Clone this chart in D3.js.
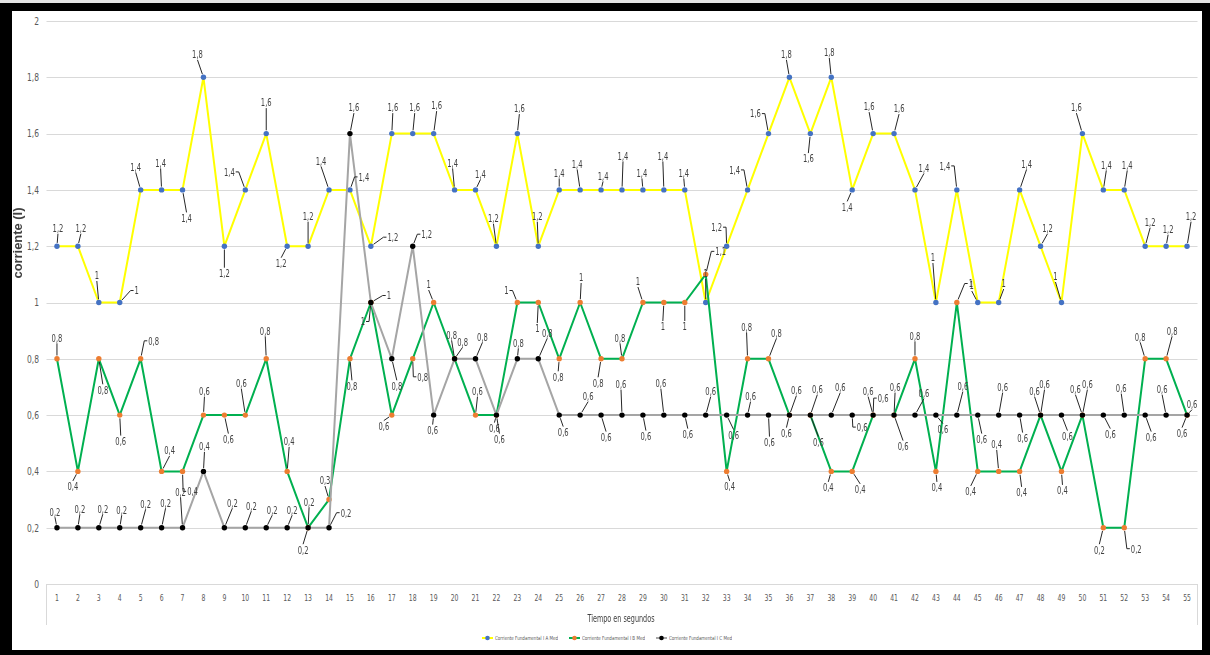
<!DOCTYPE html>
<html>
<head>
<meta charset="utf-8">
<script src="https://cdn.jsdelivr.net/npm/d3@7/dist/d3.min.js"></script>
<style>
  html, body { margin: 0; padding: 0; background: #fff; }
  svg { display: block; }
  text { font-family: "Liberation Sans Narrow", "Arial Narrow", "DejaVu Sans Condensed", "Liberation Sans", sans-serif; }
  .txt, .txt text { opacity: 0.995; }
</style>
</head>
<body>
<svg id="chart" width="1210" height="655"></svg>
<script>
// Time axis (seconds)
const categories = [1,2,3,4,5,6,7,8,9,10,11,12,13,14,15,16,17,18,19,20,21,22,23,24,25,26,27,28,29,30,
  31,32,33,34,35,36,37,38,39,40,41,42,43,44,45,46,47,48,49,50,51,52,53,54,55];

// Fundamental current per phase
const seriesA = [1.2,1.2,1,1,1.4,1.4,1.4,1.8,1.2,1.4,1.6,1.2,1.2,1.4,1.4,1.2,1.6,1.6,1.6,1.4,
  1.4,1.2,1.6,1.2,1.4,1.4,1.4,1.4,1.4,1.4,1.4,1,1.2,1.4,1.6,1.8,1.6,1.8,1.4,1.6,
  1.6,1.4,1,1.4,1,1,1.4,1.2,1,1.6,1.4,1.4,1.2,1.2,1.2];
const seriesB = [0.8,0.4,0.8,0.6,0.8,0.4,0.4,0.6,0.6,0.6,0.8,0.4,0.2,0.3,0.8,1,0.6,0.8,1,0.8,
  0.6,0.6,1,1,0.8,1,0.8,0.8,1,1,1,1.1,0.4,0.8,0.8,0.6,0.6,0.4,0.4,0.6,
  0.6,0.8,0.4,1,0.4,0.4,0.4,0.6,0.4,0.6,0.2,0.2,0.8,0.8,0.6];
const seriesC = [0.2,0.2,0.2,0.2,0.2,0.2,0.2,0.4,0.2,0.2,0.2,0.2,0.2,0.2,1.6,1,0.8,1.2,0.6,0.8,
  0.8,0.6,0.8,0.8,0.6,0.6,0.6,0.6,0.6,0.6,0.6,0.6,0.6,0.6,0.6,0.6,0.6,0.6,0.6,0.6,
  0.6,0.6,0.6,0.6,0.6,0.6,0.6,0.6,0.6,0.6,0.6,0.6,0.6,0.6,0.6];

const seriesNames = ["Corriente Fundamental I A Med", "Corriente Fundamental I B Med", "Corriente Fundamental I C Med"];
const yTicks = [0,0.2,0.4,0.6,0.8,1,1.2,1.4,1.6,1.8,2];
const yTitle = "corriente (I)";
const xTitle = "Tiempo en segundos";

// Hand-placed data label nudges [dx, dy] (px from the point)
const labelNudgeA = [[1,-18],[3,-18],[-2,-27],[17,-12],[-5,-23],[-1,-27],[4,28],[-6,-23],[0,27],[-16,-18],
  [0,-31],[-6,17],[0,-30],[-8,-29],[14,-13],[22,-9],[1,-26],[2,-26],[3,-28],[-2,-27],
  [5,-16],[-3,-28],[2,-25],[-1,-30],[0,-17],[-3,-26],[2,-14],[1,-34],[-1,-17],[-1,-34],
  [-1,-17],[0,-29],[-10,-19],[-13,-20],[-13,-20],[-3,-23],[-2,25],[-2,-25],[-5,17],[-4,-27],
  [5,-25],[9,-22],[-3,-45],[-12,-24],[-6,-17],[5,-19],[7,-26],[7,-18],[-6,-26],[-6,-26],
  [3,-25],[3,-25],[5,-24],[2,-17],[4,-30]];
const labelNudgeB = [[0,-21],[-5,15],[4,31],[1,26],[13,-18],[8,-21],[10,20],[1,-24],[4,24],[-4,-32],
  [-1,-28],[2,-30],[1,-26],[-4,-19],[2,27],[-8,19],[-8,11],[10,18],[-5,-18],[-3,-24],
  [2,-24],[-2,13],[-11,-12],[-1,26],[-1,18],[1,-25],[-3,24],[-2,-21],[-5,-21],[-1,24],
  [0,24],[15,-23],[3,15],[-1,-32],[8,-26],[-3,18],[8,27],[-3,16],[8,18],[10,-17],
  [9,31],[0,-23],[1,16],[14,-19],[-7,20],[-2,-27],[2,21],[-6,-24],[1,19],[-7,-26],
  [-4,22],[12,21],[-5,-22],[6,-28],[-5,18]];
const labelNudgeC = [[-2,-16],[2,-19],[4,-19],[2,-18],[5,-24],[4,-25],[-2,-36],[1,-25],[8,-25],[6,-22],
  [6,-18],[5,-18],[-5,22],[17,-15],[4,-26],[18,-7],[5,27],[14,-12],[-1,15],[8,-17],
  [7,-22],[3,24],[1,-16],[9,-26],[4,17],[8,-19],[5,22],[-1,-31],[3,21],[-3,-32],
  [3,19],[5,-24],[7,20],[3,-19],[1,27],[7,-25],[7,-26],[9,-28],[10,12],[-5,-24],
  [1,-28],[9,-22],[7,14],[6,-29],[4,24],[4,-28],[3,23],[4,-31],[6,21],[5,-31],
  [7,19],[-3,-27],[6,22],[-4,-26],[5,-11]];

const series = [
  { name: seriesNames[0], values: seriesA, nudge: labelNudgeA, line: "#FFFF00", marker: "#4472C4" },
  { name: seriesNames[1], values: seriesB, nudge: labelNudgeB, line: "#00B050", marker: "#ED7D31" },
  { name: seriesNames[2], values: seriesC, nudge: labelNudgeC, line: "#A5A5A5", marker: "#000000" }
];

const fmt = v => String(+v.toFixed(2)).replace(".", ",");

const svg = d3.select("#chart");

// Horizontal squeeze factor so that `sample` at `size` px spans `target` px
function squeezeFor(sample, size, target) {
  const t = svg.append("text").style("font-size", size + "px").text(sample);
  const w = t.node().getComputedTextLength();
  t.remove();
  return target / w;
}

// Frame
svg.append("rect").attr("width", 1210).attr("height", 655).attr("fill", "#000");
svg.append("rect").attr("width", 1210).attr("height", 3).attr("fill", "#e4e4e4");
svg.append("rect").attr("x", 12).attr("y", 11).attr("width", 1190).attr("height", 639).attr("fill", "#fff");

const plot = { left: 46.5, right: 1197.5, top: 21, bottom: 584 };

const x = d3.scaleBand().domain(categories).range([plot.left, plot.right]).padding(0);
const cx = c => x(c) + x.bandwidth() / 2;
const y = d3.scaleLinear().domain([0, 2]).range([plot.bottom, plot.top]);

// Horizontal gridlines
svg.append("g").selectAll("line").data(yTicks).join("line")
  .attr("x1", plot.left).attr("x2", plot.right)
  .attr("y1", d => Math.round(y(d)) + 0.5).attr("y2", d => Math.round(y(d)) + 0.5)
  .attr("stroke", "#d9d9d9").attr("stroke-width", 1);

// Category axis box edges
[plot.left, plot.right].forEach(px => {
  svg.append("line").attr("x1", px).attr("x2", px)
    .attr("y1", plot.bottom).attr("y2", 625)
    .attr("stroke", "#d9d9d9").attr("stroke-width", 1);
});

// Y axis labels
const kY = squeezeFor("1,8", 10.5, 12);
const yAxis = svg.append("g").attr("class", "txt").attr("transform", "translate(39,0)")
  .call(d3.axisLeft(y).tickValues(yTicks).tickFormat(fmt).tickSize(0).tickPadding(0));
yAxis.select(".domain").remove();
yAxis.selectAll("text").attr("fill", "#595959").style("font-size", "10.5px")
  .attr("transform", `scale(${kY},1)`);

// X axis labels
const kX = squeezeFor("10", 9.5, 7.8);
const xAxis = svg.append("g").attr("class", "txt").attr("transform", `translate(0,${plot.bottom})`)
  .call(d3.axisBottom(x).tickSize(0).tickPadding(10));
xAxis.select(".domain").remove();
xAxis.selectAll("text").attr("fill", "#595959").style("font-size", "9.5px")
  .attr("transform", `scale(${kX},1)`);

// Axis titles
const titles = svg.append("g").attr("class", "txt");
titles.append("text")
  .attr("transform", "translate(22,243) rotate(-90)")
  .attr("text-anchor", "middle")
  .attr("fill", "#404040")
  .style("font-family", "'Liberation Sans',Arial,sans-serif")
  .style("font-size", "12px").style("font-weight", "bold")
  .attr("textLength", 71).attr("lengthAdjust", "spacingAndGlyphs")
  .text(yTitle);

titles.append("text")
  .attr("x", 621).attr("y", 622)
  .attr("text-anchor", "middle")
  .attr("fill", "#404040")
  .style("font-size", "10px")
  .attr("textLength", 67).attr("lengthAdjust", "spacingAndGlyphs")
  .text(xTitle);

// Series lines and markers
const lineGen = d3.line().x(d => cx(d.c)).y(d => y(d.v));
const R = 2.7;

series.forEach(s => {
  const pts = categories.map((c, i) => ({ c, v: s.values[i] }));
  const g = svg.append("g");
  g.append("path").datum(pts)
    .attr("d", lineGen)
    .attr("fill", "none")
    .attr("stroke", s.line)
    .attr("stroke-width", 2)
    .attr("stroke-linejoin", "round");
  g.selectAll("circle").data(pts).join("circle")
    .attr("cx", d => cx(d.c)).attr("cy", d => y(d.v))
    .attr("r", R).attr("fill", s.marker);
});

// Data labels with leader lines
const kL = squeezeFor("1,2", 11, 10.8);
const leaders = svg.append("g");
const labels = svg.append("g").attr("class", "txt");
series.forEach(s => {
  categories.forEach((c, i) => {
    const v = s.values[i];
    const px = cx(c), py = y(v);
    const [dx, dy] = s.nudge[i];
    const lx = px + dx, ly = py + dy;
    const t = labels.append("text")
      .attr("transform", `translate(${lx},${ly}) scale(${kL},1)`)
      .attr("dy", "0.35em")
      .attr("text-anchor", "middle")
      .attr("fill", "#404040")
      .style("font-size", "11px")
      .text(fmt(v));
    const w = t.node().getComputedTextLength() * kL;
    const h = 8;
    if (Math.hypot(dx, dy) < 9) return;
    const shorten = (ax, ay) => {
      const vx = ax - px, vy = ay - py, L = Math.hypot(vx, vy) || 1;
      return [px + vx / L * (R + 0.6), py + vy / L * (R + 0.6)];
    };
    let path;
    if (Math.abs(dx) > w / 2 + 4) {
      const sgn = Math.sign(dx);
      const ax = lx - sgn * (w / 2 + 1), ay = ly;
      const bx = ax - sgn * 3;
      const [ex, ey] = shorten(bx, ay);
      path = `M${ax},${ay}L${bx},${ay}L${ex},${ey}`;
    } else {
      const ax = lx, ay = ly + (dy < 0 ? h / 2 + 1.5 : -(h / 2 + 1.5));
      const [ex, ey] = shorten(ax, ay);
      path = `M${ax},${ay}L${ex},${ey}`;
    }
    leaders.append("path").attr("d", path)
      .attr("fill", "none").attr("stroke", "#262626").attr("stroke-width", 1);
  });
});

// Legend
const legend = svg.append("g").attr("transform", "translate(482,638)");
let legX = 0;
series.forEach(s => {
  const g = legend.append("g").attr("transform", `translate(${legX},0)`);
  g.append("line").attr("x1", 0).attr("x2", 11).attr("y1", 0).attr("y2", 0)
    .attr("stroke", s.line).attr("stroke-width", 2);
  g.append("circle").attr("cx", 5.5).attr("cy", 0).attr("r", 2.3).attr("fill", s.marker);
  g.append("text").attr("class", "txt").attr("x", 13).attr("y", 0).attr("dy", "0.35em")
    .attr("fill", "#595959").style("font-size", "5.5px")
    .attr("textLength", 63).attr("lengthAdjust", "spacingAndGlyphs")
    .text(s.name);
  legX += 13 + 63 + 11;
});
</script>
</body>
</html>
